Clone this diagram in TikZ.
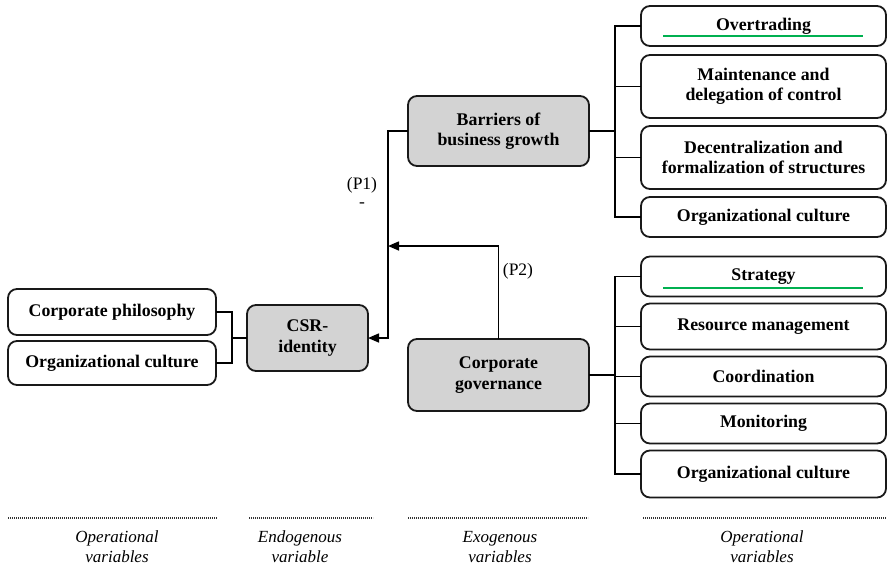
\documentclass[tikz,border=0pt]{standalone}
\usepackage{fontspec}
\setmainfont{Liberation Serif}
\usetikzlibrary{arrows.meta,positioning}
\definecolor{boxgray}{RGB}{211,211,211}
\definecolor{markgreen}{RGB}{0,176,80}

\begin{document}
\begin{tikzpicture}[x=1pt,y=-1pt,>={Triangle[length=11pt,width=9pt]},line width=1.5pt,
        font=\fontsize{17.5}{20.5}\selectfont]
    \tikzstyle{box}=[draw=black!90,rounded corners=9pt,line width=1.8pt,inner sep=0pt,outer sep=0pt,
        align=center,font=\fontsize{17.8}{20.5}\selectfont\bfseries]
    \tikzstyle{item}=[box,fill=white,minimum width=245pt]
    \tikzstyle{var}=[box,fill=boxgray]
    \tikzstyle{dots}=[line width=1.2pt,dash pattern=on 0.8pt off 1.2pt,black!80]
    \tikzstyle{lab}=[align=center,font=\fontsize{17}{20}\selectfont\itshape]

    \useasboundingbox (0,0) rectangle (888,568);

    \node[box,minimum width=208pt,minimum height=46pt] (cp) at (112,312) {Corporate philosophy};
    \node[box,minimum width=208pt,minimum height=44pt,below=6pt of cp] (oc1) {Organizational culture};
    \node[var,minimum width=121pt,minimum height=66pt] (csr) at (307.5,338) {CSR-\\identity};
    \node[var,minimum width=181pt,minimum height=70pt] (bar) at (498.5,131) {Barriers of\\business growth};
    \node[var,minimum width=181pt,minimum height=72pt] (gov) at (498.5,375) {Corporate\\governance};

    \node[item,minimum height=40pt] (ovt) at (763.5,26) {Overtrading};
    \node[item,minimum height=63pt,below=9pt of ovt] (mdc) {Maintenance and\\delegation of control};
    \node[item,minimum height=63pt,below=8pt of mdc] (dfs) {Decentralization and\\formalization of structures};
    \node[item,minimum height=40pt,below=8pt of dfs] (oc2) {Organizational culture};

    \node[item,minimum height=40pt] (stg) at (763.5,276.5) {Strategy};
    \node[item,minimum height=46pt,below=7pt of stg] (rsm) {Resource management};
    \node[item,minimum height=40pt,below=7pt of rsm] (crd) {Coordination};
    \node[item,minimum height=40pt,below=7pt of crd] (mon) {Monitoring};
    \node[item,minimum height=47pt,below=7pt of mon] (oc3) {Organizational culture};

    \draw[markgreen,line width=1.5pt] (663,36) -- (863,36);
    \draw[markgreen,line width=1.5pt] (663,288) -- (863,288);

    \coordinate (lb) at (232,338);
    \coordinate (j) at (388,246);
    \coordinate (bus) at (615,0);

    \draw (cp.east) -| (lb) |- (oc1.east);
    \draw (lb) -- (csr.west);
    \draw[->] (bar.west) -| (j) |- (csr.east);
    \draw[->] (gov.north) |- (j);

    \draw (ovt.west) -- (ovt.west -| bus) -- (oc2.west -| bus) -- (oc2.west);
    \draw (mdc.west) -- (mdc.west -| bus);
    \draw (dfs.west) -- (dfs.west -| bus);
    \draw (bar.east) -- (bar.east -| bus);

    \draw (stg.west) -- (stg.west -| bus) -- (oc3.west -| bus) -- (oc3.west);
    \draw (rsm.west) -- (rsm.west -| bus);
    \draw (crd.west) -- (crd.west -| bus);
    \draw (mon.west) -- (mon.west -| bus);
    \draw (gov.east) -- (gov.east -| bus);

    \node (p1) at (362,185) {(P1)};
    \node (m1) at (362,205) {-};
    \node (p2) at (518,271) {(P2)};

    \draw[dots] (8,518) -- (217,518);
    \draw[dots] (249,518) -- (373,518);
    \draw[dots] (408,518) -- (588,518);
    \draw[dots] (643,518) -- (886,518);

    \node[lab] (l1) at (117,547) {Operational\\variables};
    \node[lab] (l2) at (300,547) {Endogenous\\variable};
    \node[lab] (l3) at (500,547) {Exogenous\\variables};
    \node[lab] (l4) at (762,547) {Operational\\variables};
\end{tikzpicture}
\end{document}
